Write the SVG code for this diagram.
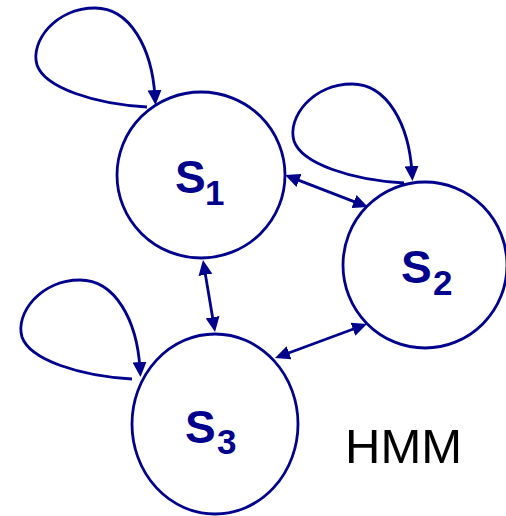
<svg xmlns="http://www.w3.org/2000/svg" width="506" height="516" viewBox="0 0 506 516">
<style>
.node{fill:#fff;stroke:#00008C;stroke-width:2.8}
.edge{fill:none;stroke:#00008C;stroke-width:2.8}
.lbl{font-family:"Liberation Sans",Arial,sans-serif;font-weight:bold;fill:#00008C}
.title{font-family:"Liberation Sans",Arial,sans-serif;fill:#000}
</style>
<defs>
<marker id="ah" viewBox="0 0 15 14" refX="7" refY="7" markerWidth="15" markerHeight="14" markerUnits="userSpaceOnUse" orient="auto-start-reverse">
<path d="M0,0 L15,7 L0,14 z" fill="#00008C"/>
</marker>
</defs>
<g id="connectors">
<path class="edge" marker-end="url(#ah)" d="M147,107 C95,104 45,88 37,65 C30,42 55,8 95,8 C130,8 152,48 155,97"/>
<path class="edge" marker-end="url(#ah)" transform="translate(257,76)" d="M147,107 C95,104 45,88 37,65 C30,42 55,8 95,8 C130,8 152,48 155,97"/>
<path class="edge" marker-end="url(#ah)" transform="translate(-15,272)" d="M147,107 C95,104 45,88 37,65 C30,42 55,8 95,8 C130,8 152,48 155,97"/>
<path class="edge" marker-start="url(#ah)" marker-end="url(#ah)" d="M292.5,177.9 L360.5,204.1"/>
<path class="edge" marker-start="url(#ah)" marker-end="url(#ah)" d="M204.3,267.9 L213.7,324.1"/>
<path class="edge" marker-start="url(#ah)" marker-end="url(#ah)" d="M359.5,326.8 L282.5,355.2"/>
</g>
<g id="S1">
<ellipse class="node" cx="201" cy="175" rx="84" ry="83"/>
<text class="lbl"><tspan x="175" y="193" font-size="46">S</tspan><tspan x="205" y="205" font-size="35">1</tspan></text>
</g>
<g id="S2">
<ellipse class="node" cx="425" cy="265" rx="82" ry="83"/>
<text class="lbl"><tspan x="401" y="283" font-size="46">S</tspan><tspan x="433" y="295" font-size="35">2</tspan></text>
</g>
<g id="S3">
<ellipse class="node" cx="215" cy="424" rx="83" ry="90"/>
<text class="lbl"><tspan x="185" y="443" font-size="46">S</tspan><tspan x="217" y="454" font-size="35">3</tspan></text>
</g>
<g id="title">
<text class="title" x="345" y="463" font-size="49">HMM</text>
</g>
</svg>
